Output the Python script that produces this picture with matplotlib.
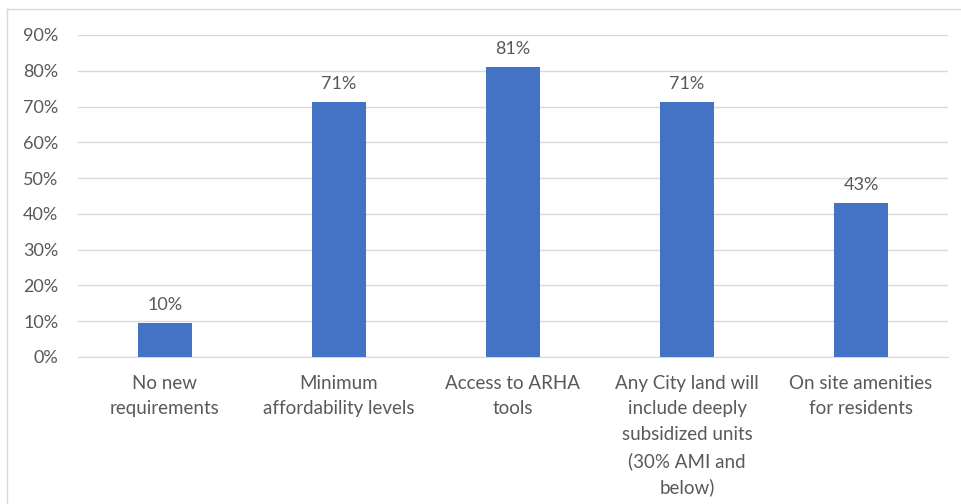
import matplotlib.pyplot as plt
from matplotlib.lines import Line2D
from matplotlib.ticker import FuncFormatter

categories = [
    "No new\nrequirements",
    "Minimum\naffordability levels",
    "Access to ARHA\ntools",
    "Any City land will\ninclude deeply\nsubsidized units\n(30% AMI and\nbelow)",
    "On site amenities\nfor residents",
]
values = [0.096, 0.714, 0.81, 0.714, 0.429]
bar_labels = ["10%", "71%", "81%", "71%", "43%"]

plt.rcParams['font.family'] = ['Lato', 'DejaVu Sans']
text_color = "#595959"

fig = plt.figure(figsize=(9.62, 5.04), dpi=100)
ax = fig.add_axes([0.081, 0.2917, 0.9045, 0.6389])

x = range(len(categories))
bars = ax.bar(x, values, width=0.31, color="#4472C4", zorder=3)

for b, lab in zip(bars, bar_labels):
    ax.text(b.get_x() + b.get_width() / 2, b.get_height() + 0.028, lab,
            ha="center", va="bottom", fontsize=13, color=text_color)

ax.set_xlim(-0.5, len(categories) - 0.5)
ax.set_ylim(0, 0.9)
ax.set_yticks([i / 10 for i in range(10)])
ax.yaxis.set_major_formatter(FuncFormatter(lambda v, p: f"{v*100:.0f}%"))
ax.set_xticks(list(x))
ax.set_xticklabels(categories, fontsize=13.5, color=text_color, linespacing=1.6)
ax.tick_params(axis="y", labelsize=13, labelcolor=text_color, length=0, pad=14)
ax.tick_params(axis="x", length=0, pad=13)

ax.grid(axis="y", color="#D9D9D9", linewidth=1, zorder=0)
for s in ["top", "right", "left"]:
    ax.spines[s].set_visible(False)
ax.spines["bottom"].set_color("#D9D9D9")

# outer chart border (top and left edges visible)
fig.add_artist(Line2D([7 / 962, 1], [1 - 9 / 504, 1 - 9 / 504],
                      transform=fig.transFigure, color="#D9D9D9", linewidth=1))
fig.add_artist(Line2D([7 / 962, 7 / 962], [0, 1 - 9 / 504],
                      transform=fig.transFigure, color="#D9D9D9", linewidth=1))

plt.savefig("out.png", dpi=100)
